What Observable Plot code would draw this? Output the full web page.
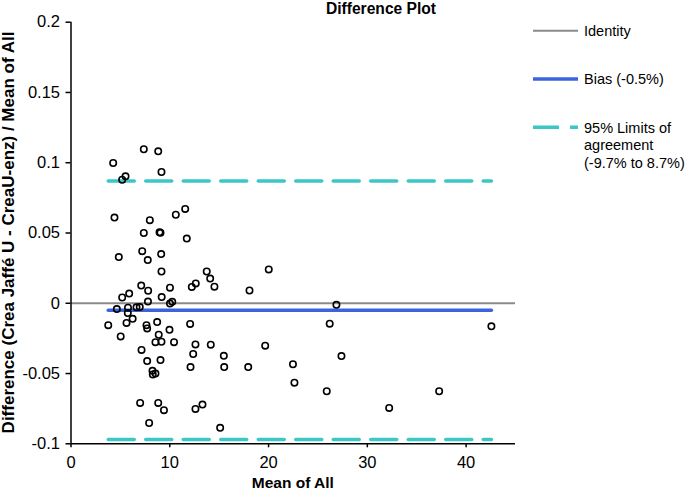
<!DOCTYPE html>
<html>
<head>
<meta charset="utf-8">
<script src="https://cdn.jsdelivr.net/npm/d3@7"></script>
<script src="https://cdn.jsdelivr.net/npm/@observablehq/plot@0.6"></script>
<style>
  html, body { margin: 0; padding: 0; background: #fff; }
  #chart { position: relative; width: 685px; height: 490px; }
</style>
</head>
<body>
<div id="chart"></div>
<script>
// Mean of All (x) and relative difference (y)
const meanOfAll = [4.27,7.37,8.83,9.16,5.52,5.18,4.40,7.98,10.61,11.56,
  7.37,8.96,9.06,11.72,4.84,7.21,7.77,9.13,9.16,13.74,
  14.09,20.02,7.11,7.81,5.89,5.18,10.02,9.18,7.79,10.02,
  10.25,12.23,12.63,14.52,18.07,4.64,5.77,5.75,6.63,6.96,
  3.77,5.62,6.24,7.64,7.71,8.72,9.97,12.06,5.03,8.88,
  8.55,9.16,10.43,7.14,7.71,9.06,8.25,8.55,8.28,7.00,
  8.83,9.41,7.91,12.60,14.15,19.66,12.37,15.47,12.10,15.51,
  17.94,22.47,22.62,12.60,13.31,15.10,26.87,26.19,42.56,27.38,
  25.89,37.27,32.21];
const difference = [0.0998,0.1096,0.1081,0.0934,0.0903,0.0879,0.0610,0.0591,0.0630,0.0671,
  0.0500,0.0505,0.0501,0.0460,0.0329,0.0371,0.0307,0.0350,0.0226,0.0226,
  0.0176,0.0241,0.0126,0.0089,0.0069,0.0041,0.0111,0.0044,0.0012,-0.0002,
  0.0010,0.0116,0.0141,0.0118,0.0091,-0.0041,-0.0032,-0.0070,-0.0029,-0.0027,
  -0.0156,-0.0140,-0.0111,-0.0156,-0.0179,-0.0134,-0.0189,-0.0147,-0.0236,-0.0224,
  -0.0277,-0.0274,-0.0277,-0.0332,-0.0411,-0.0404,-0.0481,-0.0500,-0.0507,-0.0709,
  -0.0709,-0.0761,-0.0852,-0.0293,-0.0295,-0.0302,-0.0361,-0.0374,-0.0454,-0.0454,
  -0.0454,-0.0434,-0.0565,-0.0752,-0.0721,-0.0886,-0.0011,-0.0145,-0.0164,-0.0376,
  -0.0626,-0.0626,-0.0745];

const identity = 0;
const bias = -0.005;
const loaUpper = 0.087;
const loaLower = -0.097;

const xTicks = [0, 10, 20, 30, 40];
const yTicks = [0.2, 0.15, 0.1, 0.05, 0, -0.05, -0.1];
const xDomain = [0, 45];
const yDomain = [-0.1, 0.2];

const titleText = "Difference Plot";
const xTitle = "Mean of All";
const yTitle = "Difference (Crea Jaffé U - CreaU-enz) / Mean of All";
const legendLabels = ["Identity", "Bias (-0.5%)", ["95% Limits of", "agreement", "(-9.7% to 8.7%)"]];

const GREY = "#8a8a8a", BLUE = "#3b63de", CYAN = "#3cc6c6";
const FONT = "'Liberation Sans', Arial, Helvetica, sans-serif";

const points = meanOfAll.map((m, i) => ({x: m, y: difference[i]}));
const [xmin, xmax] = d3.extent(meanOfAll);
const hline = (v) => [{x: xmin, y: v}, {x: xmax, y: v}];

const chart = Plot.plot({
  width: 685,
  height: 490,
  marginLeft: 70.5,
  marginRight: 170,
  marginTop: 21.7,
  marginBottom: 46.7,
  style: {fontFamily: FONT, fontSize: "16.5px", color: "#000", background: "#fff", overflow: "visible"},
  x: {domain: xDomain, ticks: xTicks, tickSize: 4, tickPadding: 8, label: null, tickFormat: d => String(d)},
  y: {domain: yDomain, ticks: yTicks, tickSize: 5, tickPadding: 6, label: null, tickFormat: d => String(d)},
  marks: [
    Plot.ruleY([identity], {stroke: GREY, strokeWidth: 2}),
    Plot.line(hline(bias), {x: "x", y: "y", stroke: BLUE, strokeWidth: 3.5}),
    Plot.line(hline(loaUpper), {x: "x", y: "y", stroke: CYAN, strokeWidth: 3.5, strokeDasharray: "26,11.5"}),
    Plot.line(hline(loaLower), {x: "x", y: "y", stroke: CYAN, strokeWidth: 3.5, strokeDasharray: "26,11.5"}),
    Plot.dot(points, {x: "x", y: "y", r: 3.2, stroke: "#000", strokeWidth: 1.6, fill: "none"}),
    Plot.ruleX([xDomain[0]], {stroke: "#000", strokeWidth: 1.5}),
    Plot.ruleY([yDomain[0]], {stroke: "#000", strokeWidth: 1.5})
  ]
});
document.getElementById("chart").appendChild(chart);

const svg = d3.select(chart);
svg.selectAll("[aria-label='x-axis tick'], [aria-label='y-axis tick']").attr("stroke-width", 1.5);

const g = svg.append("g").attr("font-family", FONT).attr("fill", "#000");
g.append("text").attr("x", 381).attr("y", 13.5).attr("text-anchor", "middle")
  .attr("font-weight", "bold").attr("font-size", "15.6px").text(titleText);
g.append("text").attr("x", 292.8).attr("y", 488).attr("text-anchor", "middle")
  .attr("font-weight", "bold").attr("font-size", "15.5px").text(xTitle);
g.append("text").attr("transform", "translate(14,232.5) rotate(-90)").attr("text-anchor", "middle")
  .attr("font-weight", "bold").attr("font-size", "17px").text(yTitle);

// legend
const leg = g.append("g").attr("font-size", "14.5px").attr("text-anchor", "start");
const legY = [30.7, 79, 127.3];
const legStyles = [
  {stroke: GREY, w: 2, dash: null},
  {stroke: BLUE, w: 3.5, dash: null},
  {stroke: CYAN, w: 3.5, dash: "26,11"}
];
legY.forEach((y, i) => {
  const s = legStyles[i];
  const ln = leg.append("line").attr("x1", 533).attr("x2", 578).attr("y1", y).attr("y2", y)
    .attr("stroke", s.stroke).attr("stroke-width", s.w);
  if (s.dash) ln.attr("stroke-dasharray", s.dash);
  const lab = legendLabels[i];
  const lines = Array.isArray(lab) ? lab : [lab];
  lines.forEach((t, j) => {
    leg.append("text").attr("x", 584).attr("y", y + 5.2 + j * 17.6).attr("text-anchor", "start").text(t);
  });
});
</script>
</body>
</html>
